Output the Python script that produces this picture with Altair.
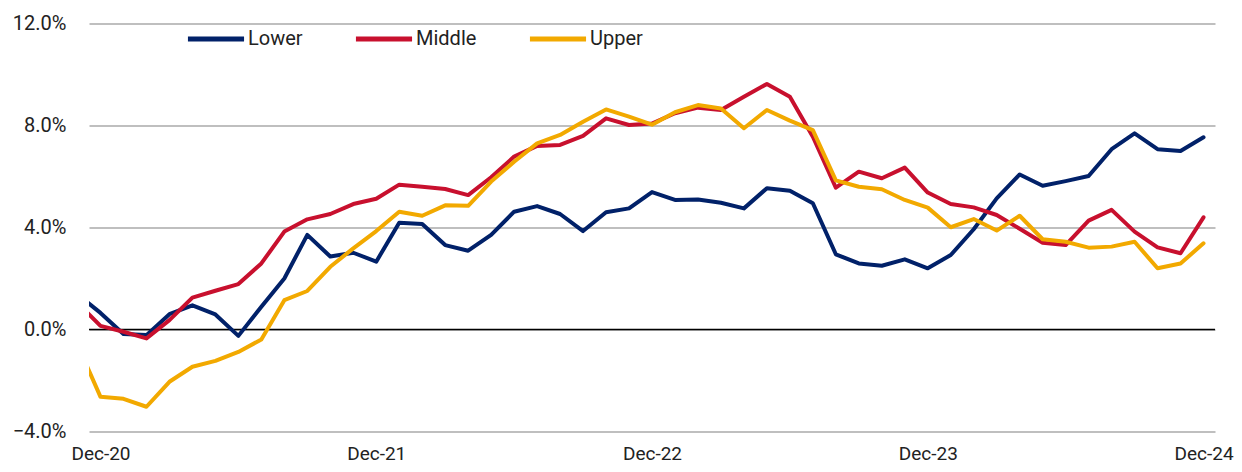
import altair as alt
import pandas as pd

# month index: -1 = Nov-20, 0 = Dec-20 ... 48 = Dec-24
months = list(range(-1, 49))

lower = [1.38, 0.65, -0.18, -0.22, 0.60, 0.95, 0.59, -0.25, 0.89, 2.00,
         3.71, 2.86, 3.01, 2.66, 4.19, 4.14, 3.31, 3.09, 3.71, 4.62,
         4.84, 4.53, 3.86, 4.60, 4.75, 5.39, 5.08, 5.10, 4.97, 4.75,
         5.54, 5.44, 4.95, 2.95, 2.59, 2.50, 2.75, 2.40, 2.92, 3.93,
         5.14, 6.08, 5.64, 5.82, 6.02, 7.07, 7.69, 7.07, 7.00, 7.54]

middle = [1.05, 0.14, -0.09, -0.35, 0.37, 1.25, 1.52, 1.78, 2.59, 3.84,
          4.32, 4.53, 4.92, 5.13, 5.68, 5.60, 5.51, 5.27, 5.97, 6.78,
          7.20, 7.24, 7.59, 8.28, 8.02, 8.08, 8.48, 8.70, 8.61, 9.13,
          9.63, 9.13, 7.56, 5.56, 6.19, 5.93, 6.35, 5.37, 4.92, 4.79,
          4.49, 3.95, 3.40, 3.31, 4.27, 4.69, 3.84, 3.22, 2.99, 4.40]

upper = [-0.60, -2.64, -2.72, -3.03, -2.05, -1.46, -1.23, -0.88, -0.39, 1.15,
         1.51, 2.46, 3.18, 3.86, 4.62, 4.46, 4.87, 4.85, 5.80, 6.58,
         7.30, 7.63, 8.15, 8.63, 8.35, 8.03, 8.52, 8.80, 8.67, 7.89,
         8.61, 8.19, 7.82, 5.85, 5.60, 5.50, 5.08, 4.78, 4.01, 4.33,
         3.88, 4.46, 3.54, 3.44, 3.21, 3.25, 3.44, 2.40, 2.59, 3.38]

series_names = ["Lower", "Middle", "Upper"]
series_colors = ["#012169", "#C8102E", "#F2A900"]
y_ticks = [-4, 0, 4, 8, 12]
x_ticks = [0, 12, 24, 36, 48]

rows = []
for name, vals in zip(series_names, [lower, middle, upper]):
    for m, v in zip(months, vals):
        rows.append({"month": m, "value": v, "series": name})
df = pd.DataFrame(rows)

FONT = "Roboto"
TXT = "#222222"
FS = 20

x_enc = alt.X(
    "month:Q",
    scale=alt.Scale(domain=[-0.5, 48.5], nice=False, zero=False),
    axis=alt.Axis(
        values=x_ticks,
        labelExpr="'Dec-' + (20 + datum.value / 12)",
        title=None, grid=False, domain=False, ticks=False,
        labelPadding=13, labelFont=FONT, labelFontSize=19, labelColor=TXT,
        labelBaseline="top",
    ),
)
y_enc = alt.Y(
    "value:Q",
    scale=alt.Scale(domain=[-4, 12], nice=False, zero=False),
    axis=alt.Axis(
        values=y_ticks,
        labelExpr="format(datum.value, '.1f') + '%'",
        title=None, grid=True, gridColor="#BFBFBF", gridWidth=2,
        domain=False, ticks=False, labelPadding=23,
        labelFont=FONT, labelFontSize=FS, labelColor=TXT,
    ),
)

lines = alt.Chart(df).mark_line(strokeWidth=4, clip=True).encode(
    x=x_enc,
    y=y_enc,
    color=alt.Color(
        "series:N",
        scale=alt.Scale(domain=series_names, range=series_colors),
        legend=alt.Legend(
            title=None, orient="none", direction="horizontal",
            legendX=96, legendY=-15.5, padding=0,
            symbolType="stroke", symbolSize=3150, symbolStrokeWidth=5,
            labelFont=FONT, labelFontSize=FS, labelColor=TXT,
            labelOffset=1, columnPadding=50,
        ),
    ),
    detail="series:N",
)

zero = alt.Chart(pd.DataFrame({"z": [0]})).mark_rule(
    color="#000000", strokeWidth=1.5
).encode(y=alt.Y("z:Q"))

chart = alt.layer(zero, lines).properties(
    width=1126, height=408,
    autosize="none",
    padding={"left": 81, "top": 15.5, "right": 19, "bottom": 32},
).configure_view(stroke=None).configure_line(strokeCap="round", strokeJoin="round")

chart.save("out.html", embed_options={"renderer": "svg", "actions": False})
